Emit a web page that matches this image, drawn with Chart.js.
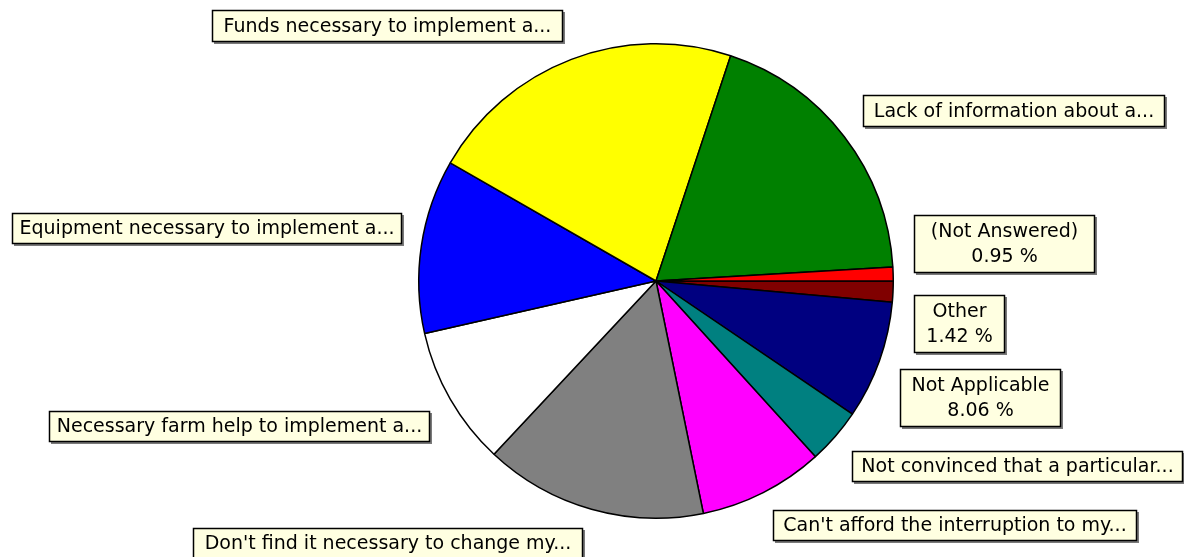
<!DOCTYPE html>
<html>
<head>
<meta charset="utf-8">
<script src="https://cdn.jsdelivr.net/npm/chart.js@4"></script>
<style>
  html, body { margin: 0; padding: 0; background: #ffffff; }
  #wrap { width: 1184px; height: 557px; position: relative; }
</style>
</head>
<body>
<div id="wrap"><canvas id="c" width="1184" height="557"></canvas></div>
<script>
// Categories in clockwise drawing order, starting at 3 o'clock
const categories = [
  "Other",
  "Not Applicable",
  "Not convinced that a particular...",
  "Can't afford the interruption to my...",
  "Don't find it necessary to change my...",
  "Necessary farm help to implement a...",
  "Equipment necessary to implement a...",
  "Funds necessary to implement a...",
  "Lack of information about a...",
  "(Not Answered)"
];
// Response counts (total 211)
const counts = [3, 17, 8, 18, 32, 20, 25, 46, 40, 2];
// Which labels also show their percentage
const showPercent = [true, true, false, false, false, false, false, false, false, true];

const sliceColors = ["#800000", "#000080", "#008080", "#ff00ff", "#808080",
                     "#ffffff", "#0000ff", "#ffff00", "#008000", "#ff0000"];

// Callout box layout: [left, top, right, bottom]
const labelBoxes = [
  [914, 295, 1005, 353],
  [900, 369, 1061, 427],
  [852, 451, 1183, 482],
  [773, 510, 1137, 541],
  [193, 528, 583, 559],
  [49, 411, 430, 442],
  [12, 213, 402, 244],
  [212, 10, 563, 42],
  [863, 95, 1165, 127],
  [914, 215, 1095, 273]
];

const total = counts.reduce((a, b) => a + b, 0);

const calloutPlugin = {
  id: 'callouts',
  afterDraw(chart) {
    const ctx = chart.ctx;
    ctx.save();
    ctx.font = '19px "DejaVu Sans", sans-serif';
    ctx.textAlign = 'center';
    ctx.textBaseline = 'middle';
    categories.forEach((name, i) => {
      const [l, t, r, b] = labelBoxes[i];
      const w = r - l, h = b - t;
      // shadow
      ctx.fillStyle = '#7a7a7a';
      ctx.fillRect(l + 2, t + 2, w, h);
      // box
      ctx.fillStyle = '#ffffe1';
      ctx.fillRect(l, t, w, h);
      ctx.strokeStyle = '#000000';
      ctx.lineWidth = 1.5;
      ctx.strokeRect(l + 0.5, t + 0.5, w - 1, h - 1);
      ctx.fillStyle = '#000000';
      const cx = l + w / 2;
      if (showPercent[i]) {
        const pct = (counts[i] / total * 100).toFixed(2) + ' %';
        ctx.fillText(name, cx, t + h * 0.29);
        ctx.fillText(pct, cx, t + h * 0.72);
      } else {
        ctx.fillText(name, cx, t + h / 2 + 1);
      }
    });
    ctx.restore();
  }
};

new Chart(document.getElementById('c'), {
  type: 'pie',
  data: {
    labels: categories,
    datasets: [{
      data: counts,
      backgroundColor: sliceColors,
      borderColor: '#000000',
      borderWidth: 1.5,
      hoverOffset: 0
    }]
  },
  options: {
    responsive: false,
    animation: false,
    rotation: 90,
    layout: { padding: { left: 418, right: 290, top: 43, bottom: 38 } },
    plugins: {
      legend: { display: false },
      tooltip: { enabled: false }
    }
  },
  plugins: [calloutPlugin]
});
</script>
</body>
</html>
